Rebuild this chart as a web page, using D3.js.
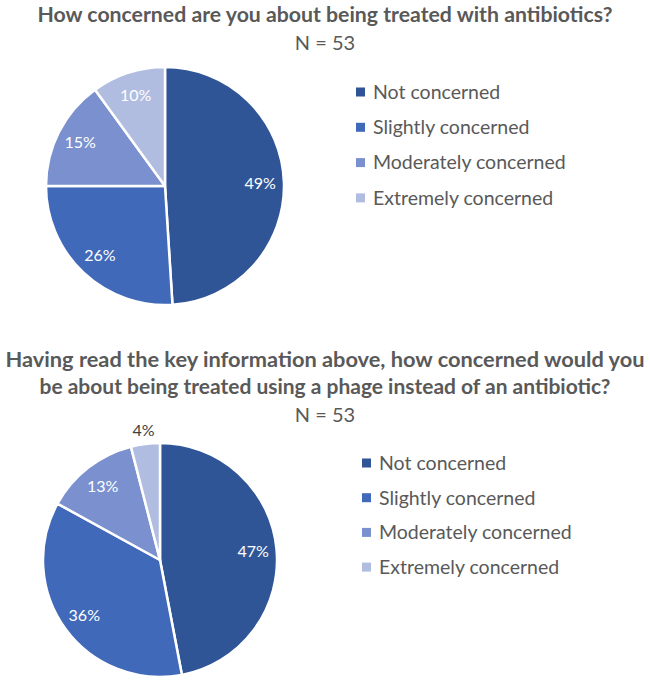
<!DOCTYPE html>
<html><head><meta charset="utf-8">
<script src="https://cdn.jsdelivr.net/npm/d3@7"></script>
<style>body{margin:0;background:#fff}svg{display:block}</style>
</head><body>
<svg id="c" width="650" height="681"></svg>
<script>
const categories = ["Not concerned","Slightly concerned","Moderately concerned","Extremely concerned"];
const colors = ["#2F5597","#4169BA","#7A90CF","#B1BDE0"];
const values1 = [49,26,15,10];
const values2 = [47,36,13,4];
const title1 = ["How concerned are you about being treated with antibiotics?"];
const title2 = ["Having read the key information above, how concerned would you","be about being treated using a phage instead of an antibiotic?"];
const nLabel = "N = 53";

const svg = d3.select("#c");
const font = "Lato, 'Open Sans', sans-serif";
const txtCol = "#595959";

function drawTitle(lines, y0, widths){
  lines.forEach((l,i)=>{
    const t = svg.append("text").attr("x",325).attr("y",y0+i*27).attr("text-anchor","middle")
      .attr("font-family",font).attr("font-weight","bold").attr("font-size",20.5).attr("fill",txtCol).text(l);
    if(widths && widths[i]) t.attr("textLength",widths[i]).attr("lengthAdjust","spacingAndGlyphs");
  });
  svg.append("text").attr("x",325).attr("y",y0+lines.length*27+1).attr("text-anchor","middle")
    .attr("font-family",font).attr("font-size",20).attr("fill",txtCol).text(nLabel);
}

function drawPie(values, cx, cy, r, outsideSmall){
  const g = svg.append("g").attr("transform",`translate(${cx},${cy})`);
  const pie = d3.pie().sort(null).value(d=>d);
  const arcs = pie(values);
  const arc = d3.arc().innerRadius(0).outerRadius(r);
  const lab = d3.arc().innerRadius(r*0.8).outerRadius(r*0.8);
  const out = d3.arc().innerRadius(r*1.12).outerRadius(r*1.12);
  g.selectAll("path").data(arcs).join("path").attr("d",arc)
    .attr("fill",(d,i)=>colors[i]).attr("stroke","#fff").attr("stroke-width",2.5).attr("stroke-linejoin","round");
  g.selectAll("text").data(arcs).join("text")
    .attr("transform",d=>{
      const isOut = outsideSmall && d.value<5;
      const p = (isOut?out:lab).centroid(d);
      return `translate(${p[0]},${p[1]})`;
    })
    .attr("text-anchor","middle").attr("dy","0.35em")
    .attr("font-family",font).attr("font-size",16)
    .attr("fill",d=> (outsideSmall && d.value<5) ? "#404040" : "#fff")
    .text(d=>d.value+"%");
}

function drawLegend(x, y0, step){
  categories.forEach((c,i)=>{
    const y = y0+i*step;
    svg.append("rect").attr("x",x).attr("y",y-4.5).attr("width",9).attr("height",9).attr("fill",colors[i]);
    svg.append("text").attr("x",x+17).attr("y",y).attr("dy","0.35em")
      .attr("font-family",font).attr("font-size",19.5).attr("fill",txtCol).text(c);
  });
}

drawTitle(title1, 22, [575]);
drawPie(values1, 165, 186, 119, false);
drawLegend(356, 92, 35.3);

drawTitle(title2, 367, [639, 571]);
drawPie(values2, 160, 560, 117, true);
drawLegend(362, 463, 34.7);
</script>
</body></html>
